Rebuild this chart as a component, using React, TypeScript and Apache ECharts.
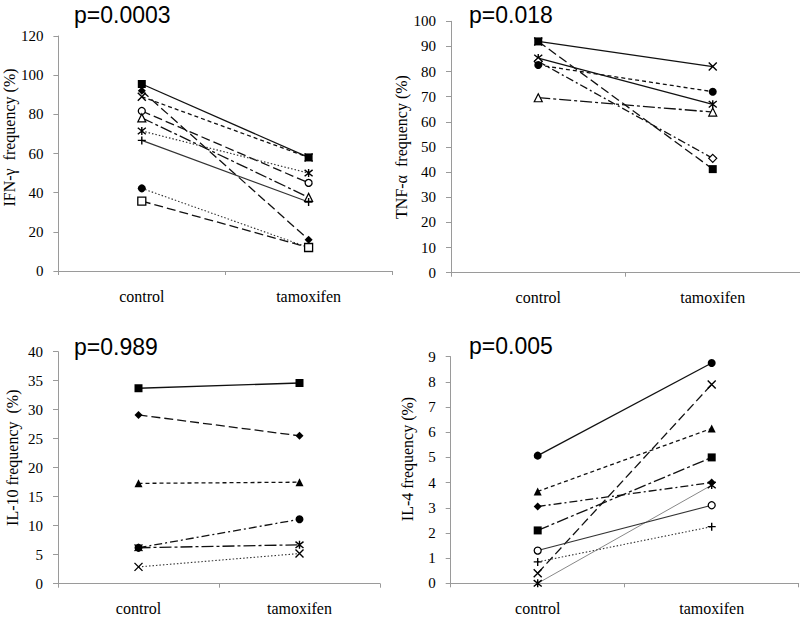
import React, { useEffect, useRef } from "react";
import * as echarts from "echarts";

const CATEGORIES = ["control", "tamoxifen"];

// Panel 1: IFN-γ (%)
const ifnSquareFilled = [95.5, 58];
const ifnDiamondFilled = [92, 16];
const ifnCross = [89, 58];
const ifnCircleOpen = [81.7, 45];
const ifnTriangleOpen = [78.2, 37.6];
const ifnAsterisk = [71.5, 50];
const ifnPlus = [66.7, 35.2];
const ifnCircleFilled = [42.2, 12];
const ifnSquareOpen = [35.7, 12];

// Panel 2: TNF-α (%)
const tnfSquareFilled = [92, 41.2];
const tnfCross = [92, 82];
const tnfAsterisk = [85.4, 67];
const tnfDiamondOpen = [84, 45.5];
const tnfCircleFilled = [82.6, 72];
const tnfTriangleOpen = [69.6, 63.9];

// Panel 3: IL-10 (%)
const il10SquareFilled = [33.7, 34.6];
const il10DiamondFilled = [29.1, 25.5];
const il10TriangleFilled = [17.3, 17.5];
const il10CircleFilled = [6.2, 11.1];
const il10Asterisk = [6.2, 6.7];
const il10Cross = [2.9, 5.2];

// Panel 4: IL-4 (%)
const il4CircleFilled = [5.07, 8.75];
const il4Cross = [0.4, 7.9];
const il4TriangleFilled = [3.65, 6.15];
const il4SquareFilled = [2.1, 5.0];
const il4DiamondFilled = [3.05, 4.0];
const il4Asterisk = [0, 3.9];
const il4CircleOpen = [1.3, 3.1];
const il4Plus = [0.85, 2.25];

const P_VALUES = ["p=0.0003", "p=0.018", "p=0.989", "p=0.005"];
const Y_NAMES = ["IFN-γ  frequency (%)", "TNF-α  frequency (%)", "IL-10 frequency  (%)", "IL-4 frequency (%)"];
const Y_MAX = [120, 100, 40, 9];
const Y_INTERVAL = [20, 10, 5, 1];

const SERIF = "'Liberation Serif', 'Times New Roman', serif";
const SANS = "'Liberation Sans', Arial, sans-serif";

const CROSS_PATH = "path://M0,0L10,10M10,0L0,10";
const AST_PATH = "path://M1,1L9,9M9,1L1,9M5,0L5,10";
const PLUS_PATH = "path://M5,0L5,10M0,5L10,5";

const DASH: Record<string, any> = {
  solid: "solid",
  longDash: [9, 4],
  shortDash: [4, 3],
  dashDot: [8, 3, 2, 3],
  longDashDot: [12, 3, 3, 3],
  dotted: [1.5, 2],
};

function markerStyle(kind: string) {
  switch (kind) {
    case "sqF":
      return { symbol: "rect", symbolSize: 8, itemStyle: { color: "#000", borderWidth: 0 } };
    case "sqO":
      return { symbol: "rect", symbolSize: 8, itemStyle: { color: "#fff", borderColor: "#000", borderWidth: 1.3 } };
    case "diaF":
      return { symbol: "diamond", symbolSize: 8, itemStyle: { color: "#000", borderWidth: 0 } };
    case "diaO":
      return { symbol: "diamond", symbolSize: 8, itemStyle: { color: "#fff", borderColor: "#000", borderWidth: 1.2 } };
    case "cirF":
      return { symbol: "circle", symbolSize: 8, itemStyle: { color: "#000", borderWidth: 0 } };
    case "cirO":
      return { symbol: "circle", symbolSize: 7, itemStyle: { color: "#fff", borderColor: "#000", borderWidth: 1.3 } };
    case "triF":
      return { symbol: "triangle", symbolSize: 8, itemStyle: { color: "#000", borderWidth: 0 } };
    case "triO":
      return { symbol: "triangle", symbolSize: 8, itemStyle: { color: "#fff", borderColor: "#000", borderWidth: 1.2 } };
    case "x":
      return { symbol: CROSS_PATH, symbolSize: 8, itemStyle: { color: "#000", borderColor: "#000", borderWidth: 1.4 } };
    case "ast":
      return { symbol: AST_PATH, symbolSize: 8, itemStyle: { color: "#000", borderColor: "#000", borderWidth: 1.4 } };
    case "plus":
    default:
      return { symbol: PLUS_PATH, symbolSize: 8, itemStyle: { color: "#000", borderColor: "#000", borderWidth: 1.4 } };
  }
}

function line(name: string, data: number[], panel: number, kind: string, dash: string, width = 1.3, color = "#111") {
  return {
    type: "line",
    name,
    data,
    xAxisIndex: panel,
    yAxisIndex: panel,
    showSymbol: true,
    ...markerStyle(kind),
    lineStyle: { type: DASH[dash], width, color },
    emphasis: { disabled: true },
  };
}

const GRIDS = [
  { left: 58, top: 36, width: 334, height: 235 },
  { left: 451, top: 21.3, width: 392, height: 251.4 },
  { left: 58, top: 351.7, width: 322, height: 232 },
  { left: 450.7, top: 356.7, width: 348, height: 226.6 },
];
const NAME_GAPS = [38, 35, 38, 35];
const NAME_PAD = [[0, 0, 0, 32], [0, 0, 0, 0], [0, 0, 0, 20], [0, 0, 0, 22]];
const TITLE_POS = [
  { left: 74, top: 3 },
  { left: 469, top: 3 },
  { left: 74, top: 335 },
  { left: 469, top: 334.5 },
];

export default function App() {
  const ref = useRef<HTMLDivElement>(null);

  useEffect(() => {
    document.body.style.margin = "0";
    const chart = echarts.init(ref.current as HTMLDivElement, undefined, { renderer: "svg" });
    const axisColor = "#9a9a9a";
    const option: any = {
      animation: false,
      backgroundColor: "#fff",
      title: P_VALUES.map((t, i) => ({
        text: t,
        left: TITLE_POS[i].left,
        top: TITLE_POS[i].top,
        padding: 0,
        textStyle: { fontFamily: SANS, fontSize: 23, fontWeight: "normal", color: "#000" },
      })),
      grid: GRIDS.map((g) => ({ ...g, containLabel: false })),
      xAxis: GRIDS.map((_, i) => ({
        type: "category",
        gridIndex: i,
        data: CATEGORIES,
        boundaryGap: true,
        axisLine: { lineStyle: { color: axisColor, width: 1 } },
        axisTick: { show: true, length: 4, lineStyle: { color: axisColor } },
        axisLabel: { fontFamily: SERIF, fontSize: 16, color: "#000", margin: 17 },
        splitLine: { show: false },
      })),
      yAxis: GRIDS.map((_, i) => ({
        type: "value",
        gridIndex: i,
        min: 0,
        max: Y_MAX[i],
        interval: Y_INTERVAL[i],
        name: Y_NAMES[i],
        nameLocation: "middle",
        nameRotate: 90,
        nameGap: NAME_GAPS[i],
        nameTextStyle: { fontFamily: SERIF, fontSize: 16, color: "#000", padding: NAME_PAD[i] },
        axisLine: { show: true, lineStyle: { color: axisColor, width: 1 } },
        axisTick: { show: true, length: 5, lineStyle: { color: axisColor } },
        axisLabel: { fontFamily: SERIF, fontSize: 15, color: "#000", margin: 15 },
        splitLine: { show: false },
      })),
      series: [
        // Panel 1
        line("IFN sqF", ifnSquareFilled, 0, "sqF", "solid"),
        line("IFN diaF", ifnDiamondFilled, 0, "diaF", "longDash"),
        line("IFN x", ifnCross, 0, "x", "shortDash"),
        line("IFN cirO", ifnCircleOpen, 0, "cirO", "longDash"),
        line("IFN triO", ifnTriangleOpen, 0, "triO", "longDashDot"),
        line("IFN ast", ifnAsterisk, 0, "ast", "dotted", 1.2, "#333"),
        line("IFN plus", ifnPlus, 0, "plus", "solid", 1.1, "#333"),
        line("IFN cirF", ifnCircleFilled, 0, "cirF", "dotted", 1.1, "#333"),
        line("IFN sqO", ifnSquareOpen, 0, "sqO", "longDash"),
        // Panel 2
        line("TNF x", tnfCross, 1, "x", "solid"),
        line("TNF sqF", tnfSquareFilled, 1, "sqF", "longDash"),
        line("TNF ast", tnfAsterisk, 1, "ast", "solid"),
        line("TNF diaO", tnfDiamondOpen, 1, "diaO", "dashDot"),
        line("TNF cirF", tnfCircleFilled, 1, "cirF", "shortDash"),
        line("TNF triO", tnfTriangleOpen, 1, "triO", "longDashDot"),
        // Panel 3
        line("IL10 sqF", il10SquareFilled, 2, "sqF", "solid"),
        line("IL10 diaF", il10DiamondFilled, 2, "diaF", "longDash"),
        line("IL10 triF", il10TriangleFilled, 2, "triF", "shortDash"),
        line("IL10 cirF", il10CircleFilled, 2, "cirF", "dashDot"),
        line("IL10 ast", il10Asterisk, 2, "ast", "longDashDot"),
        line("IL10 x", il10Cross, 2, "x", "dotted", 1.1, "#333"),
        // Panel 4
        line("IL4 cirF", il4CircleFilled, 3, "cirF", "solid"),
        line("IL4 x", il4Cross, 3, "x", "longDash"),
        line("IL4 triF", il4TriangleFilled, 3, "triF", "shortDash"),
        line("IL4 sqF", il4SquareFilled, 3, "sqF", "longDashDot"),
        line("IL4 diaF", il4DiamondFilled, 3, "diaF", "dashDot"),
        line("IL4 ast", il4Asterisk, 3, "ast", "solid", 1, "#888"),
        line("IL4 cirO", il4CircleOpen, 3, "cirO", "solid", 1.1, "#333"),
        line("IL4 plus", il4Plus, 3, "plus", "dotted", 1.1, "#333"),
      ],
    };
    chart.setOption(option);
    return () => chart.dispose();
  }, []);

  return (
    <div
      ref={ref}
      style={{ position: "absolute", left: 0, top: 0, width: 800, height: 618, background: "#fff" }}
    />
  );
}
